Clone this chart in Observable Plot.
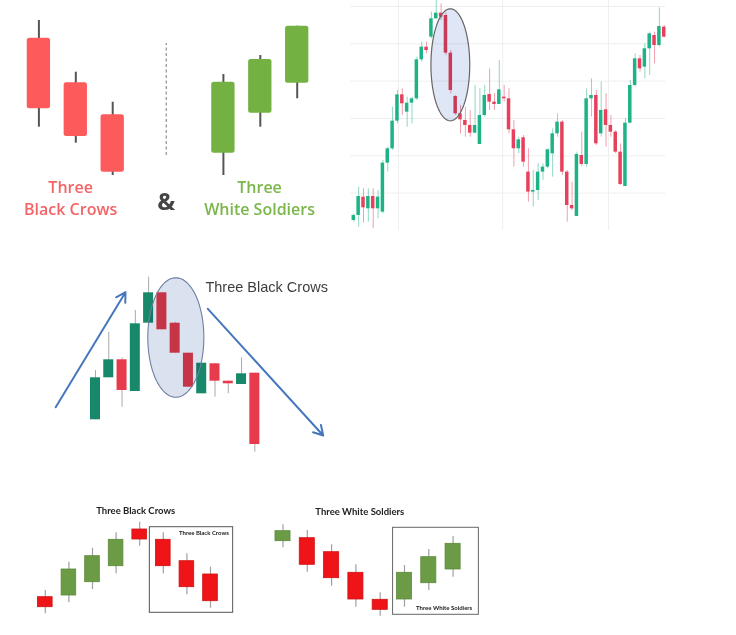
<!DOCTYPE html>
<html><head><meta charset="utf-8">
<script src="https://cdn.jsdelivr.net/npm/d3@7"></script>
<script src="https://cdn.jsdelivr.net/npm/@observablehq/plot@0.6"></script>
<style>
body{margin:0;background:#fff;}
#root{position:relative;width:736px;height:635px;overflow:hidden;background:#fff;}
#root svg{position:absolute;overflow:visible;}
</style></head><body><div id="root"></div>
<script>
// ---------- Panel 1: illustration (Three Black Crows & Three White Soldiers)
const p1Slot  = [1, 2, 3, 6, 7, 8];
const p1Open  = [142.3, 97.7, 65.7, 27.3, 67.3, 97.3];
const p1High  = [160.0, 108.3, 78.3, 106.0, 125.0, 154.3];
const p1Low   = [53.3, 37.3, 5.0, 5.0, 53.3, 81.7];
const p1Close = [71.7, 44.0, 8.3, 98.3, 121.0, 154.3];

// ---------- Panel 2: market chart with highlighted crows
const p2Open  = [4.0,5.5,11.0,7.5,11.2,7.5,6.5,21.2,25.5,33.8,41.7,36.5,39.2,40.5,52.2,56.0,59.0,64.5,66.2,65.5,54.2,41.2,36.0,34.0,32.5,30.2,26.8,35.5,41.8,39.5,38.8,41.0,40.5,31.2,25.5,28.8,18.5,12.5,13.0,18.5,20.0,24.0,30.0,33.5,18.5,8.5,5.2,23.5,20.8,40.5,41.5,30.0,37.2,32.5,30.5,24.5,14.2,33.2,44.5,52.5,50.0,55.5,59.5,56.5,62.0];
const p2High  = [6.0,14.0,13.5,13.5,13.5,13.0,22.0,26.0,38.0,43.0,43.5,41.0,41.0,53.0,57.5,57.5,66.5,70.0,69.0,66.2,55.0,41.5,38.5,38.0,37.0,44.5,43.5,44.5,49.5,42.0,52.0,44.5,43.5,34.0,29.0,29.5,25.5,19.0,21.0,21.0,25.5,31.5,36.0,34.0,19.0,15.5,24.5,30.5,43.5,46.5,43.0,45.5,42.0,35.5,31.0,27.0,34.5,46.0,54.0,53.5,57.0,60.5,60.5,67.8,62.5];
const p2Low   = [3.5,2.0,3.2,3.5,1.5,4.5,6.0,18.5,25.0,33.0,35.5,32.0,33.0,40.0,51.5,54.0,58.5,64.5,64.0,53.5,42.0,35.5,30.0,29.0,29.0,30.0,26.8,35.0,37.0,37.0,38.8,39.5,30.0,20.0,24.0,20.0,9.5,8.0,10.0,16.0,19.5,17.0,29.0,17.5,3.5,7.0,5.2,20.2,20.0,35.0,26.5,29.0,26.0,29.0,24.0,14.5,14.2,33.0,44.0,48.5,46.5,47.5,51.0,56.0,58.8];
const p2Close = [5.5,11.2,7.8,11.2,7.5,11.0,21.2,25.5,33.8,41.7,39.0,39.2,40.5,52.2,56.0,55.0,64.5,66.2,65.0,54.2,43.0,36.0,34.2,32.5,30.2,32.5,35.5,41.5,39.5,38.8,43.2,40.5,31.2,25.5,28.2,21.5,12.5,13.0,18.5,20.0,25.2,30.0,33.5,18.5,8.5,7.5,23.8,20.8,40.5,41.5,27.0,37.0,32.5,30.5,24.5,14.8,33.2,44.5,52.5,49.5,55.5,60.0,56.5,62.2,59.0];
const p2GridY = [12.2, 23.4, 34.6, 45.8, 57.0, 68.2];
const p2GridX = [10.2, 31.7, 53.5];
const p2Ellipse = {cx: 20.9, cy: 50.7, rx: 4.0, ry: 16.8};

// ---------- Panel 3: trend reversal with arrows
const p3Open  = [40.7, 82.7, 100.7, 69.0, 137.3, 167.7, 137.3, 107.3, 66.7, 96.7, 79.3, 76.0, 87.3];
const p3High  = [90.0, 128.3, 102.7, 150.0, 183.3, 167.7, 138.3, 107.3, 97.3, 96.7, 79.3, 102.7, 87.3];
const p3Low   = [40.7, 82.7, 53.3, 69.0, 137.3, 130.7, 107.3, 73.3, 66.7, 63.3, 66.7, 76.0, 8.3];
const p3Close = [82.7, 100.7, 70.0, 136.7, 167.7, 130.7, 107.3, 73.3, 97.3, 79.3, 76.7, 86.7, 16.0];
const p3Ellipse = {cx: 7.05, cy: 123, rx: 2.11, ry: 59.7};
const p3Arrows = [{x1: -2.0, y1: 53.3, x2: 3.26, y2: 168.3}, {x1: 9.46, y1: 151.7, x2: 18.15, y2: 25.0}];
const p3Label = "Three Black Crows";

// ---------- Panel 4: Three Black Crows schematic
const p4Open  = [23.3, 25.0, 38.3, 54.3, 91.0, 80.7, 59.3, 46.0];
const p4High  = [30.0, 58.3, 72.3, 87.7, 98.3, 87.7, 66.7, 53.3];
const p4Low   = [6.7, 17.7, 31.0, 46.7, 74.3, 46.7, 25.7, 12.3];
const p4Close = [13.3, 51.0, 64.3, 80.7, 81.0, 54.3, 33.3, 19.3];
const p4Box = {x1: 5.43, x2: 8.96, y1: 7.7, y2: 93.3};

// ---------- Panel 5: Three White Soldiers schematic
const p5Open  = [79.3, 82.3, 68.3, 47.7, 20.7, 21.0, 37.3, 51.0];
const p5High  = [95.7, 90.0, 75.7, 55.7, 27.7, 55.0, 71.0, 84.0];
const p5Low   = [72.7, 48.3, 34.3, 13.3, 4.3, 13.3, 30.0, 43.3];
const p5Close = [89.3, 55.7, 42.3, 21.0, 10.7, 47.7, 63.3, 76.7];
const p5Box = {x1: 5.53, x2: 9.06, y1: 5.7, y2: 92.7};

// ---------- helpers
function candles(xs, o, h, l, c) {
  return xs.map((x, i) => ({x, open: o[i], high: h[i], low: l[i], close: c[i], up: c[i] >= o[i]}));
}
function ellipsePts(e, n = 120) {
  return d3.range(n + 1).map(k => {
    const t = 2 * Math.PI * k / n;
    return {x: e.cx + e.rx * Math.cos(t), y: e.cy + e.ry * Math.sin(t)};
  });
}
function candleMarks(data, s) {
  return [
    Plot.ruleX(data, {x: "x", y1: "low", y2: "high",
      stroke: s.wick ? s.wick : d => d.up ? s.up : s.down,
      strokeOpacity: s.wickOpacity ?? 1, strokeWidth: s.wickWidth ?? 1}),
    Plot.rect(data, {x1: d => d.x - s.half, x2: d => d.x + s.half, y1: "open", y2: "close",
      fill: d => d.up ? s.up : s.down,
      stroke: s.border ? (d => d.up ? s.border[0] : s.border[1]) : null,
      strokeWidth: s.border ? 0.8 : null,
      rx: s.rx ?? 0})
  ];
}
function place(svg, left, top) {
  svg.style.left = left + "px";
  svg.style.top = top + "px";
  svg.style.background = "transparent";
  document.getElementById("root").appendChild(svg);
}
const idx = n => d3.range(1, n + 1);

// ---------- Panel 1
{
  const data = candles(p1Slot, p1Open, p1High, p1Low, p1Close);
  const red = "#fd5a5c", green = "#73b242";
  const font = "'Open Sans', sans-serif";
  const svg = Plot.plot({
    width: 345, height: 235, margin: 0,
    x: {domain: [0, 9], range: [1.5, 333.6], axis: null},
    y: {domain: [0, 180], range: [180, 0], axis: null},
    marks: [
      Plot.ruleX([4.45], {y1: 25, y2: 137, stroke: "#777", strokeDasharray: "3,2.5", strokeWidth: 1}),
      ...candleMarks(data, {half: 0.316, up: green, down: red, wick: "#555", wickWidth: 2, rx: 2.5}),
      Plot.text(["Three", "Black Crows"], {x: 1.86, y: [-7, -29], text: d => d, fill: "#f46467", fontSize: 16, fontWeight: 600, fontFamily: font}),
      Plot.text(["&"], {x: 4.45, y: -21.5, text: d => d, fill: "#454545", fontSize: 24, fontWeight: 700, fontFamily: font}),
      Plot.text(["Three", "White Soldiers"], {x: 6.98, y: [-7, -29], text: d => d, fill: "#7ab64a", fontSize: 16, fontWeight: 600, fontFamily: font})
    ]
  });
  place(svg, 0, 0);
}

// ---------- Panel 2
{
  const data = candles(idx(p2Open.length), p2Open, p2High, p2Low, p2Close);
  const up = "#1db386", down = "#e6405c";
  const svg = Plot.plot({
    width: 330, height: 235, margin: 0,
    x: {domain: [0, 66], range: [3.45, 323.6], axis: null},
    y: {domain: [0, 70], range: [233.3, 0], axis: null},
    marks: [
      Plot.ruleY(p2GridY, {x1: 0.3, x2: 65.3, stroke: "#efefef", strokeWidth: 1}),
      Plot.ruleX(p2GridX, {y1: 1, y2: 71, stroke: "#efefef", strokeWidth: 1}),
      ...candleMarks(data, {half: 0.36, up, down, wickOpacity: 0.5, wickWidth: 1}),
      Plot.line(ellipsePts(p2Ellipse), {x: "x", y: "y", fill: "#dfe6f6", stroke: "none", mixBlendMode: "multiply"}),
      Plot.line(ellipsePts(p2Ellipse), {x: "x", y: "y", stroke: "#666", strokeWidth: 1.2})
    ]
  });
  place(svg, 345, 0);
}

// ---------- Panel 3
{
  const data = candles(idx(p3Open.length), p3Open, p3High, p3Low, p3Close);
  const up = "#17896a", down = "#e73a4c";
  const svg = Plot.plot({
    width: 300, height: 200, margin: 0,
    x: {domain: [-3, 19], range: [1.88, 294.0], axis: null},
    y: {domain: [0, 200], range: [200, 0], axis: null},
    marks: [
      ...candleMarks(data, {half: 0.377, up, down, wick: "#aaa", wickWidth: 1}),
      Plot.line(ellipsePts(p3Ellipse), {x: "x", y: "y", fill: "#dbe2ef", stroke: "none", mixBlendMode: "multiply"}),
      Plot.line(ellipsePts(p3Ellipse), {x: "x", y: "y", stroke: "#6e7fa2", strokeWidth: 1.1}),
      Plot.arrow(p3Arrows, {x1: "x1", y1: "y1", x2: "x2", y2: "y2", stroke: "#4677bd", strokeWidth: 2, headLength: 8}),
      Plot.text([p3Label], {x: 9.28, y: 173.3, text: d => d, textAnchor: "start", fill: "#3d3d3d", fontSize: 14.5, fontFamily: "'Liberation Sans', Arial, sans-serif"})
    ]
  });
  place(svg, 40, 260);
}

// ---------- Panel 4
{
  const data = candles(idx(p4Open.length), p4Open, p4High, p4Low, p4Close);
  const svg = Plot.plot({
    width: 230, height: 125, margin: 0,
    x: {domain: [0, 9], range: [1.2, 213.6], axis: null},
    y: {domain: [0, 125], range: [125, 0], axis: null},
    marks: [
      ...candleMarks(data, {half: 0.31, up: "#6c9b45", down: "#ef1418", wick: "#a0a0a0", wickWidth: 1.2, border: ["#5d8a3a", "#d01010"]}),
      Plot.rect([p4Box], {x1: "x1", x2: "x2", y1: "y1", y2: "y2", fill: "none", stroke: "#555", strokeWidth: 1}),
      Plot.text(["Three Black Crows"], {x: 7.72, y: 87.7, text: d => d, fill: "#222", fontSize: 6, fontWeight: 700, fontFamily: "Lato, sans-serif"}),
      Plot.text(["Three Black Crows"], {x: 4.83, y: 110, text: d => d, fill: "#222", fontSize: 9.5, fontWeight: 700, fontFamily: "Lato, sans-serif"})
    ]
  });
  place(svg, 20, 495);
}

// ---------- Panel 5
{
  const data = candles(idx(p5Open.length), p5Open, p5High, p5Low, p5Close);
  const svg = Plot.plot({
    width: 230, height: 125, margin: 0,
    x: {domain: [0, 9], range: [-1.8, 216.9], axis: null},
    y: {domain: [0, 125], range: [125, 0], axis: null},
    marks: [
      ...candleMarks(data, {half: 0.31, up: "#6c9b45", down: "#ef1418", wick: "#a0a0a0", wickWidth: 1.2, border: ["#5d8a3a", "#d01010"]}),
      Plot.rect([p5Box], {x1: "x1", x2: "x2", y1: "y1", y2: "y2", fill: "none", stroke: "#666", strokeWidth: 1}),
      Plot.text(["Three White Soldiers"], {x: 7.63, y: 12.3, text: d => d, fill: "#222", fontSize: 6, fontWeight: 700, fontFamily: "Lato, sans-serif"}),
      Plot.text(["Three White Soldiers"], {x: 4.16, y: 109, text: d => d, fill: "#222", fontSize: 9.5, fontWeight: 700, fontFamily: "Lato, sans-serif"})
    ]
  });
  place(svg, 260, 495);
}
</script></body></html>
